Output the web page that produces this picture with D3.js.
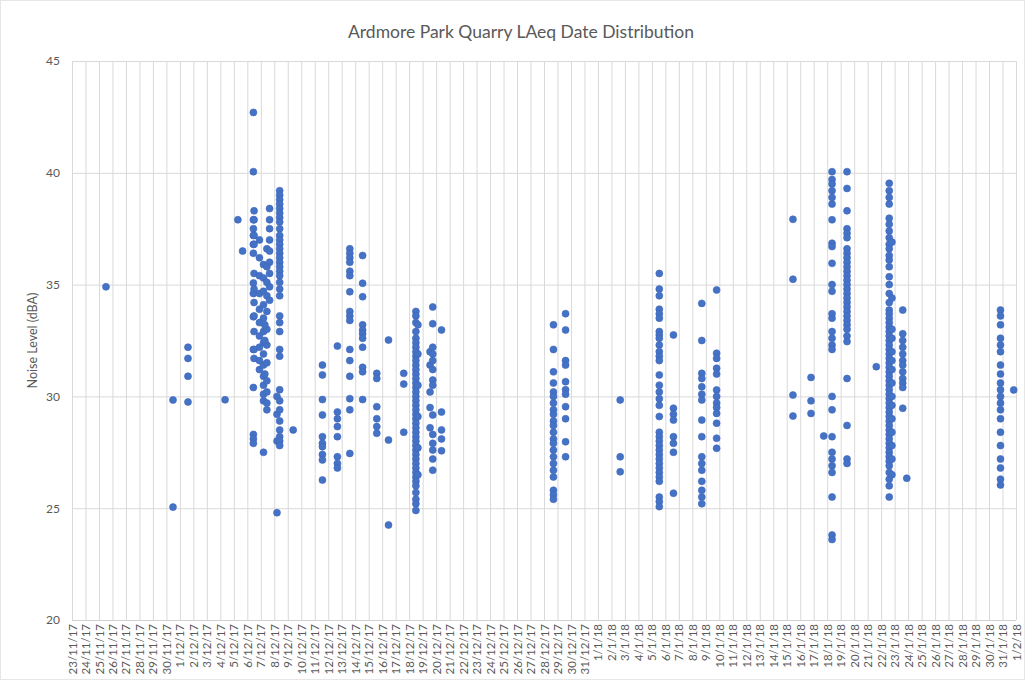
<!DOCTYPE html>
<html>
<head>
<meta charset="utf-8">
<script src="https://cdn.jsdelivr.net/npm/d3@7"></script>
<style>
  html, body { margin: 0; padding: 0; background: #ffffff; }
  svg { display: block; }
</style>
</head>
<body>
<svg id="chart" width="1025" height="680"></svg>
<script>
// Chart title and axis labels
const chartTitle = "Ardmore Park Quarry LAeq Date Distribution";
const yAxisTitle = "Noise Level (dBA)";

// Axis extents and ticks
const dateStart = "2017-11-23 00:00";
const dateEnd = "2018-02-01 00:00";
const levelTicks = [20, 25, 30, 35, 40, 45];

// Measurement times (one per group of readings taken at that time)
const readingTimes = [
  "2017-11-25 12:30", "2017-11-30 11:45", "2017-12-01 14:24", "2017-12-04 08:24",
  "2017-12-05 07:12", "2017-12-05 15:36", "2017-12-06 10:48", "2017-12-06 12:00",
  "2017-12-06 21:36", "2017-12-07 04:48", "2017-12-07 10:48", "2017-12-07 15:36",
  "2017-12-07 07:12", "2017-12-08 04:48", "2017-12-08 09:36", "2017-12-09 09:36",
  "2017-12-11 13:41", "2017-12-12 16:19", "2017-12-13 14:24", "2017-12-14 13:12",
  "2017-12-15 14:24", "2017-12-16 11:17", "2017-12-17 14:24", "2017-12-18 12:00",
  "2017-12-18 15:36", "2017-12-19 13:12", "2017-12-19 18:00", "2017-12-20 09:36",
  "2017-12-28 16:48", "2017-12-29 14:24", "2018-01-02 15:36", "2018-01-05 13:12",
  "2018-01-06 14:24", "2018-01-08 16:48", "2018-01-09 19:12", "2018-01-15 11:02",
  "2018-01-16 19:12", "2018-01-17 17:46", "2018-01-18 08:38", "2018-01-19 11:17",
  "2018-01-21 15:22", "2018-01-22 14:24", "2018-01-22 19:12", "2018-01-23 14:24",
  "2018-01-23 21:36", "2018-01-30 20:24", "2018-01-31 19:55"
];

// LAeq readings (dBA) for each measurement time above
const readingLevels = [
  [34.9],
  [29.84, 25.05],
  [32.2, 31.7, 30.9, 29.75],
  [29.85],
  [37.9],
  [36.5],
  [42.7, 40.05, 37.9, 37.5, 37.2, 36.8, 36.4, 35.07, 34.6, 33.56, 32.1, 30.4, 28.3, 28.1, 27.9],
  [38.3, 37.9, 37.2, 36.8, 35.5, 34.8, 34.2, 33.6, 32.9, 32.1, 31.7],
  [37.0, 36.2, 35.4, 34.6, 33.9, 33.3, 32.7, 32.2, 31.6, 31.2],
  [35.9, 35.3, 34.7, 34.1, 33.5, 32.9, 32.4, 31.9, 31.4, 30.9, 30.5, 30.1, 29.8, 27.5],
  [36.6, 35.8, 35.1, 34.5, 33.8, 33.0, 32.3, 31.5, 30.7, 30.2, 29.7, 29.4],
  [38.4, 37.9, 37.5, 37.0, 36.5, 36.0, 35.5, 34.9, 34.3],
  [33.2, 32.5, 31.0],
  [30.0, 29.2, 28.0, 24.8],
  [39.2, 39.0, 38.8, 38.6, 38.4, 38.2, 38.0, 37.8, 37.5, 37.2, 37.0, 36.8, 36.6, 36.4, 36.2,
   36.0, 35.8, 35.6, 35.4, 35.1, 34.8, 34.5, 33.6, 33.3, 32.9, 32.1, 31.8, 30.3, 29.8, 29.4,
   28.9, 28.5, 28.2, 28.0, 27.8],
  [28.5],
  [31.4, 30.96, 29.86, 29.17, 28.2, 27.9, 27.75, 27.4, 27.16, 26.26],
  [32.25, 29.3, 29.0, 28.65, 28.2, 27.3, 27.0, 26.8],
  [36.6, 36.4, 36.2, 36.0, 35.6, 35.4, 34.68, 33.8, 33.6, 33.4, 32.1, 31.6, 30.9, 29.9, 29.4, 27.45],
  [36.3, 35.06, 34.46, 33.2, 32.97, 32.8, 32.6, 32.2, 31.3, 31.1, 29.86],
  [31.03, 30.8, 29.54, 29.0, 28.65, 28.35],
  [32.52, 28.05, 24.25],
  [31.03, 30.55, 28.4],
  [33.8, 33.6, 33.3, 32.9, 32.6, 32.4, 32.2, 32.0, 31.8, 31.6, 31.4, 31.2, 31.0, 30.8, 30.6,
   30.4, 30.2, 30.0, 29.8, 29.6, 29.4, 29.2, 29.0, 28.8, 28.6, 28.4, 28.2, 28.0, 27.8, 27.6,
   27.4, 27.2, 27.0, 26.8, 26.6, 26.4, 26.2, 26.0, 25.7, 25.4, 25.2, 24.9],
  [33.2, 31.9, 30.5, 29.1, 27.7, 26.5],
  [32.0, 31.4, 30.2, 29.5, 28.6],
  [34.0, 33.25, 32.2, 31.9, 31.6, 31.2, 30.73, 30.5, 29.17, 28.3, 27.9, 27.6, 27.2, 26.7],
  [32.97, 29.3, 28.5, 28.1, 27.57],
  [33.2, 32.1, 31.1, 30.6, 30.2, 30.0, 29.7, 29.4, 29.2, 28.9, 28.7, 28.4, 28.1, 27.9, 27.6,
   27.3, 27.0, 26.7, 26.4, 25.8, 25.6, 25.4],
  [33.7, 32.97, 31.6, 31.4, 30.66, 30.3, 30.1, 29.54, 29.0, 27.97, 27.3],
  [29.84, 27.3, 26.63],
  [35.5, 34.8, 34.5, 33.9, 33.7, 33.5, 32.9, 32.75, 32.6, 32.3, 32.0, 31.8, 31.6, 30.96, 30.5,
   30.2, 29.9, 29.6, 29.1, 28.4, 28.2, 28.0, 27.8, 27.6, 27.4, 27.2, 27.0, 26.8, 26.6, 26.4,
   26.2, 25.5, 25.3, 25.07],
  [32.75, 29.47, 29.2, 28.94, 28.2, 27.9, 27.5, 25.67],
  [34.16, 32.5, 31.03, 30.8, 30.43, 30.1, 29.84, 28.94, 28.2, 27.3, 27.0, 26.7, 26.2, 25.8, 25.5, 25.2],
  [34.76, 31.93, 31.7, 31.26, 31.0, 30.29, 30.0, 29.7, 29.5, 29.24, 28.8, 28.13, 27.68],
  [37.92, 35.24, 30.06, 29.12],
  [30.85, 29.8, 29.24],
  [28.23],
  [40.05, 39.7, 39.5, 39.2, 38.9, 38.6, 37.9, 36.85, 36.7, 35.95, 35.0, 34.7, 33.7, 33.5, 32.9,
   32.6, 32.3, 32.1, 30.0, 29.4, 28.2, 27.5, 27.2, 26.9, 26.6, 25.5, 23.8, 23.6],
  [40.05, 39.3, 38.3, 37.5, 37.3, 37.1, 36.6, 36.4, 36.2, 36.0, 35.8, 35.6, 35.4, 35.2, 35.0,
   34.8, 34.6, 34.4, 34.2, 34.0, 33.8, 33.6, 33.4, 33.2, 33.0, 32.7, 32.45, 30.8, 28.7, 27.2, 27.0],
  [31.33],
  [39.53, 39.2, 38.9, 38.6, 37.97, 37.7, 37.4, 37.1, 36.8, 36.6, 36.3, 36.1, 35.8, 35.35, 35.0,
   34.6, 34.2, 33.86, 33.7, 33.5, 33.3, 33.1, 32.9, 32.7, 32.5, 32.3, 32.1, 31.9, 31.7, 31.5,
   31.3, 31.1, 30.9, 30.7, 30.5, 30.3, 30.1, 29.9, 29.7, 29.5, 29.3, 29.1, 28.9, 28.7, 28.5,
   28.3, 28.1, 27.9, 27.7, 27.5, 27.3, 27.1, 26.9, 26.6, 26.3, 26.0, 25.5],
  [36.9, 34.4, 33.0, 32.6, 32.0, 31.6, 31.2, 30.6, 30.0, 29.6, 29.0, 28.4, 27.8, 27.2, 26.5],
  [33.86, 32.8, 32.5, 32.2, 31.9, 31.6, 31.4, 31.1, 30.8, 30.6, 30.4, 29.47],
  [26.34],
  [33.86, 33.6, 33.2, 32.6, 32.3, 32.0, 31.4, 31.0, 30.6, 30.3, 30.0, 29.7, 29.4, 29.0, 28.4,
   27.8, 27.2, 26.8, 26.3, 26.04],
  [30.29]
];

const parseTime = d3.utcParse("%Y-%m-%d %H:%M");
const formatDay = d3.utcFormat("%-d/%-m/%y");

// Flatten groups into individual readings
const readings = readingTimes.flatMap((t, i) =>
  readingLevels[i].map(v => ({ time: parseTime(t), level: v }))
);

const svg = d3.select("#chart");
const W = 1025, H = 680;
const plot = { left: 72, right: 1016, top: 61, bottom: 620 };
const font = "Lato, 'Open Sans', sans-serif";
const textColour = "#595959";
const gridColour = "#d9d9d9";

svg.append("rect").attr("x", 0.5).attr("y", 0.5).attr("width", W - 1).attr("height", H - 1)
  .attr("fill", "#ffffff").attr("stroke", "#e6e6e6");

const x = d3.scaleUtc()
  .domain([parseTime(dateStart), parseTime(dateEnd)])
  .range([plot.left, plot.right]);

const y = d3.scaleLinear()
  .domain([d3.min(levelTicks), d3.max(levelTicks)])
  .range([plot.bottom, plot.top]);

const dayTicks = d3.utcDay.range(parseTime(dateStart), d3.utcDay.offset(parseTime(dateEnd), 1));

// Horizontal gridlines and y tick labels
const yAxis = d3.axisLeft(y).tickValues(levelTicks).tickSize(-(plot.right - plot.left)).tickPadding(12);
const gy = svg.append("g").attr("transform", `translate(${plot.left},0)`).call(yAxis);
gy.select(".domain").remove();
gy.selectAll(".tick line").attr("stroke", gridColour).attr("stroke-width", 1);
gy.selectAll(".tick text").attr("fill", textColour).style("font-family", font).style("font-size", "12px");

// Vertical gridlines, one per day, with rotated date labels
const xAxis = d3.axisBottom(x).tickValues(dayTicks).tickFormat(formatDay)
  .tickSize(-(plot.bottom - plot.top)).tickPadding(5);
const gx = svg.append("g").attr("transform", `translate(0,${plot.bottom})`).call(xAxis);
gx.select(".domain").remove();
gx.selectAll(".tick line").attr("stroke", gridColour).attr("stroke-width", 1);
gx.selectAll(".tick text")
  .attr("fill", textColour)
  .style("font-family", font).style("font-size", "11.5px")
  .attr("text-anchor", "end")
  .attr("dy", "0.35em")
  .attr("transform", "translate(0,4) rotate(-90)")
  .attr("x", 0).attr("y", 0);

// Bottom axis line
svg.append("line")
  .attr("x1", plot.left).attr("x2", plot.right)
  .attr("y1", y(d3.min(levelTicks)) + 0.5).attr("y2", y(d3.min(levelTicks)) + 0.5)
  .attr("stroke", "#d0d0d0");

// Readings
svg.append("g").selectAll("circle").data(readings).join("circle")
  .attr("cx", d => x(d.time))
  .attr("cy", d => y(d.level))
  .attr("r", 3.5)
  .attr("fill", "#4472c4")
  .attr("stroke", "#3f67bd")
  .attr("stroke-width", 0.6);

// Title
svg.append("text")
  .attr("x", (plot.left + plot.right) / 2 - 23).attr("y", 38)
  .attr("text-anchor", "middle")
  .attr("fill", textColour)
  .style("font-family", font).style("font-size", "17.5px")
  .text(chartTitle);

// Y axis title
svg.append("text")
  .attr("transform", `translate(37,${(plot.top + plot.bottom) / 2}) rotate(-90)`)
  .attr("text-anchor", "middle")
  .attr("fill", textColour)
  .style("font-family", font).style("font-size", "12.5px")
  .text(yAxisTitle);
</script>
</body>
</html>
